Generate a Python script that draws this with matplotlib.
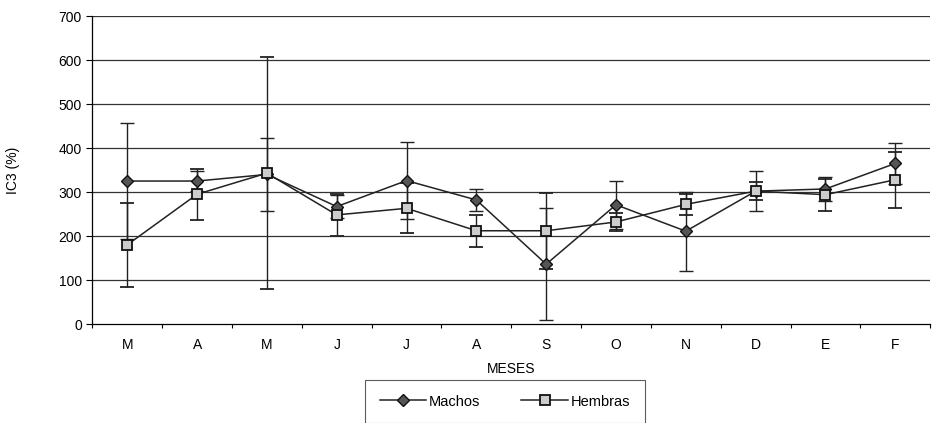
import numpy as np
import matplotlib.pyplot as plt
from matplotlib.ticker import FixedLocator
from matplotlib.lines import Line2D

plt.rcParams['font.family'] = ['Liberation Sans', 'DejaVu Sans']

# Datos (IC3 %, media y desviación)
meses = ['M', 'A', 'M', 'J', 'J', 'A', 'S', 'O', 'N', 'D', 'E', 'F']
machos = [325, 325, 340, 267, 326, 282, 136, 271, 211, 302, 307, 365]
machos_err = [132, 22, 82, 26, 87, 25, 128, 55, 90, 45, 28, 46]
hembras = [180, 295, 343, 248, 263, 212, 212, 232, 272, 302, 294, 328]
hembras_err = [95, 58, 263, 48, 57, 36, 86, 20, 24, 20, 36, 64]

x = np.arange(len(meses))

fig = plt.figure(figsize=(9.33, 4.23), dpi=100)
ax = fig.add_axes([0.099, 0.234, 0.898, 0.728])

for v in range(100, 701, 100):
    ax.axhline(v, color='#333333', lw=0.9, zorder=0)

estilo_m = dict(color='#222222', lw=1.1, marker='D', ms=6,
                mfc='#555555', mec='#111111')
estilo_h = dict(color='#222222', lw=1.1, marker='s', ms=7,
                mfc='#cccccc', mec='#111111', mew=1.3)

ax.errorbar(x, machos, yerr=machos_err, ecolor='#222222', elinewidth=1.0,
            capsize=5, capthick=1.0, zorder=3, **estilo_m)
ax.errorbar(x, hembras, yerr=hembras_err, ecolor='#222222', elinewidth=1.0,
            capsize=5, capthick=1.0, zorder=3, **estilo_h)

ax.set_xlim(-0.5, len(meses) - 0.5)
ax.set_ylim(0, 700)
ax.set_yticks(range(0, 701, 100))
ax.set_xticks(x)
ax.set_xticklabels(meses)
ax.xaxis.set_minor_locator(FixedLocator(np.arange(-0.5, len(meses), 1)))
ax.tick_params(axis='x', which='major', length=0, pad=10, labelsize=10)
ax.tick_params(axis='x', which='minor', length=3, direction='out', width=0.8)
ax.tick_params(axis='y', length=4, labelsize=10, width=0.8)

for s in ['right', 'top']:
    ax.spines[s].set_visible(False)
ax.spines['left'].set_linewidth(0.9)
ax.spines['bottom'].set_linewidth(0.9)

ax.set_xlabel('MESES', fontsize=10, labelpad=7)
ax.set_ylabel('IC3 (%)', fontsize=10, labelpad=28)

handles = [Line2D([], [], **estilo_m), Line2D([], [], **estilo_h)]
leg = fig.legend(handles, ['Machos', 'Hembras'], loc='upper center',
                 bbox_to_anchor=(505 / 933, 1 - 380 / 423),
                 ncol=2, frameon=True, fancybox=False, edgecolor='#333333',
                 fontsize=10.5, borderpad=1.0, handlelength=3.2,
                 columnspacing=2.8, handletextpad=0.2, borderaxespad=0)
leg.get_frame().set_linewidth(0.8)

plt.savefig('out.png', dpi=100)
